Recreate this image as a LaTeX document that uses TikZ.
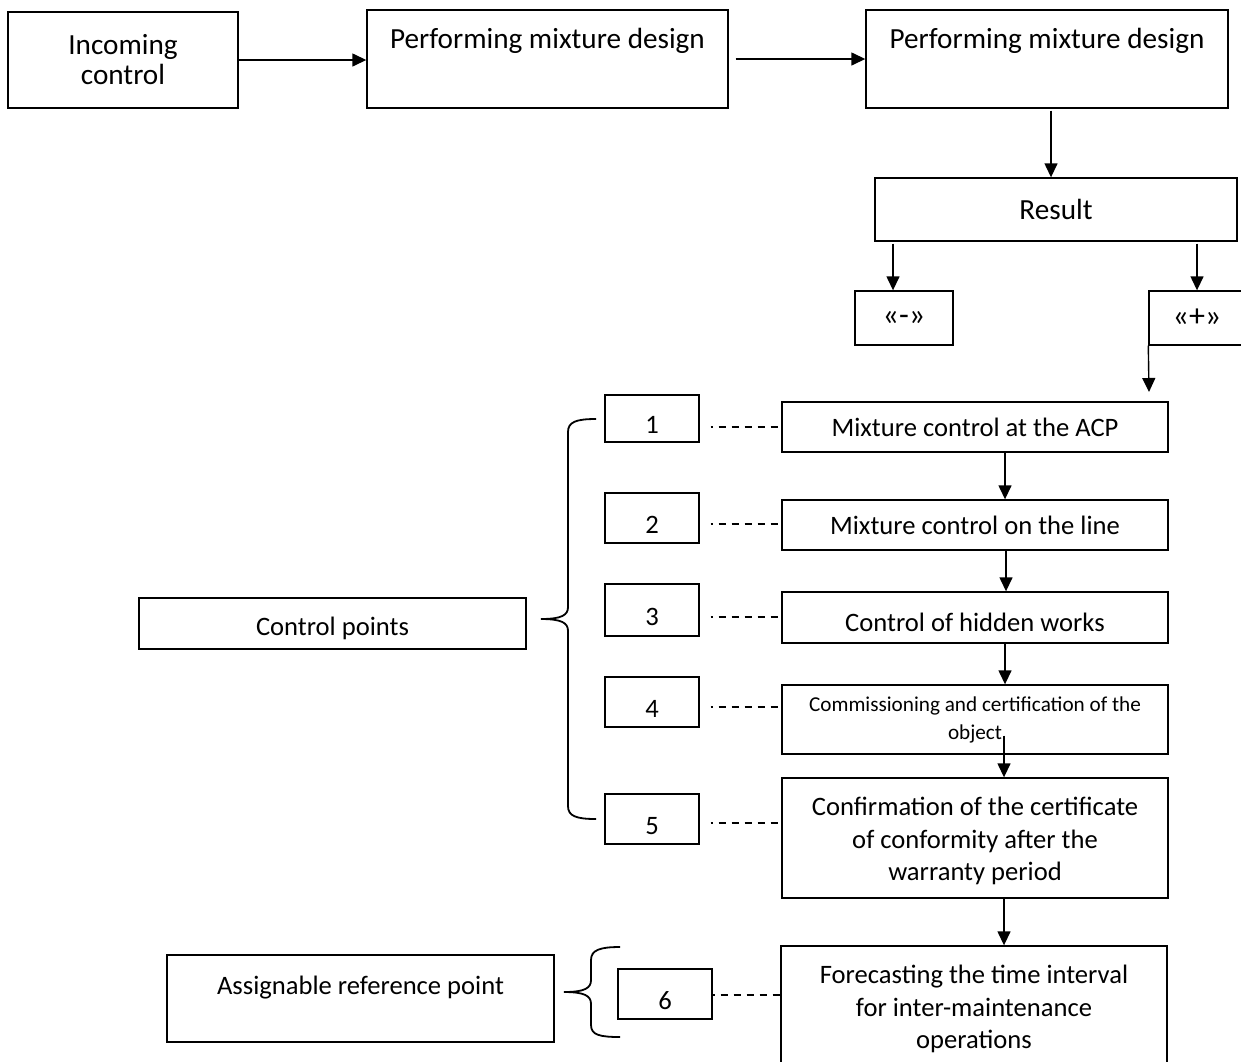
\documentclass[tikz,border=0pt]{standalone}
\usepackage{fontspec}
\setmainfont{Carlito}
\usetikzlibrary{arrows.meta}

\begin{document}
\begin{tikzpicture}[x=0.5pt,y=-0.5pt,
  font=\fontsize{13.3}{16.2}\selectfont,
  blk/.style={draw,line width=0.7pt,align=center,inner sep=2pt},
  big/.style={font=\fontsize{14.6}{15}\selectfont},
  num/.style={blk,minimum width=47pt,minimum height=25pt,text height=15pt,text depth=0pt},
  arr/.style={line width=0.7pt,-{Triangle[length=7pt,width=6.5pt]}},
  dsh/.style={line width=0.7pt,dash pattern=on 3.5pt off 3pt,dash phase=2.5pt}]
  \useasboundingbox (0,0) rectangle (1241,1061);
  % top row
  \node[blk,big,minimum width=115pt,minimum height=48pt] (inc) at (123,60) {Incoming\\control};
  \node[blk,big,minimum width=180.5pt,minimum height=49pt,text height=9.5pt,text depth=20pt] (mix1) at (547.5,59) {Performing mixture design};
  \node[blk,big,minimum width=181pt,minimum height=49pt,text height=9.5pt,text depth=20pt] (mix2) at (1047,59) {Performing mixture design};
  \node[blk,big,minimum width=181pt,minimum height=31.5pt] (res) at (1056,209.5) {Result};
  \node[blk,minimum width=49pt,minimum height=27pt,font=\fontsize{16}{18}\selectfont] (neg) at (904,318) {«-»};
  \node[blk,minimum width=48pt,minimum height=27pt,font=\fontsize{16}{18}\selectfont] (pos) at (1197,318) {«+»};
  \coordinate (posend) at (1149,392);
  % control chain
  \node[blk,minimum width=193pt,minimum height=25pt] (acp) at (975,427) {Mixture control at the ACP};
  \node[blk,minimum width=193pt,minimum height=25pt] (line) at (975,525) {Mixture control on the line};
  \node[blk,minimum width=193pt,minimum height=25.5pt,text height=14pt,text depth=0pt] (hid) at (975,617.5) {Control of hidden works};
  \node[blk,minimum width=193pt,minimum height=34.5pt,font=\fontsize{10.6}{14}\selectfont] (com) at (975,719.5) {Commissioning and certification of the\\object};
  \node[blk,minimum width=193pt,minimum height=60pt] (conf) at (975,838) {\rule{0pt}{12.5pt}Confirmation of the certificate\\of conformity after the\\warranty period};
  \node[blk,minimum width=193pt,minimum height=60pt] (fore) at (974,1006) {\rule{0pt}{12.5pt}Forecasting the time interval\\for inter-maintenance\\operations};
  % numbered points
  \node[num,minimum height=23.5pt] (n1) at (652,418.5) {1};
  \node[num] (n2) at (652,518) {2};
  \node[num,minimum height=26pt] (n3) at (652,610) {3};
  \node[num] (n4) at (652,702) {4};
  \node[num] (n5) at (652,819) {5};
  \node[num] (n6) at (665,994) {6};
  \node[blk,minimum width=193.5pt,minimum height=25.5pt,text height=12pt,text depth=0pt] (cp) at (332.5,623.5) {Control points};
  \node[blk,minimum width=193.5pt,minimum height=43.5pt,text height=9.5pt,text depth=14pt] (arp) at (360.5,998.5) {Assignable reference point};

  \draw[arr] (inc.east) -- (inc.east -| mix1.west);
  \draw[arr] ([xshift=3.5pt]mix1.east) -- (mix1.east -| mix2.west);
  \draw[arr] ([xshift=2pt,yshift=-1pt]mix2.south) -- ([xshift=2pt]mix2.south |- res.north);
  \draw[arr] ([xshift=-5.5pt,yshift=-1pt]neg.north |- res.south) -- ([xshift=-5.5pt]neg.north);
  \draw[arr] ([yshift=-1pt]pos.north |- res.south) -- (pos.north);
  \draw[arr] (pos.south west) -- (posend);
  \draw[arr] ([xshift=15pt]acp.south) -- ([xshift=15pt]line.north);
  \draw[arr] ([xshift=15.5pt]line.south) -- ([xshift=15.5pt]hid.north);
  \draw[arr] ([xshift=15pt]hid.south) -- ([xshift=15pt]com.north);
  \draw[arr] ([xshift=14.5pt,yshift=9.5pt]com.south) -- ([xshift=14.5pt]conf.north);
  \draw[arr] ([xshift=14.5pt]conf.south) -- ([xshift=14.5pt]conf.south |- fore.north);

  \draw[dsh] ([xshift=5.5pt,yshift=-4.25pt]n1.east) -- ([yshift=-4.25pt]n1.east -| acp.west);
  \draw[dsh] ([xshift=5.5pt,yshift=-3pt]n2.east) -- ([yshift=-3pt]n2.east -| line.west);
  \draw[dsh] ([xshift=5.5pt,yshift=-3.5pt]n3.east) -- ([yshift=-3.5pt]n3.east -| hid.west);
  \draw[dsh] ([xshift=5.5pt,yshift=-2.5pt]n4.east) -- ([yshift=-2.5pt]n4.east -| com.west);
  \draw[dsh] ([xshift=5.5pt,yshift=-2pt]n5.east) -- ([yshift=-2pt]n5.east -| conf.west);
  \draw[dsh] ([yshift=-0.5pt]n6.east) -- ([yshift=-0.5pt]n6.east -| fore.west);

  % braces
  \draw[line width=0.9pt] (596,419) .. controls (576,419) and (568,422) .. (568,432) -- (568,607)
    .. controls (568,615) and (562,619) .. (541,619) .. controls (562,619) and (568,623) .. (568,631)
    -- (568,806) .. controls (568,816) and (576,819) .. (596,819);
  \draw[line width=0.9pt] (620,947) .. controls (600,947) and (591,950) .. (591,960) -- (591,980)
    .. controls (591,988) and (585,992) .. (564,992) .. controls (585,992) and (591,996) .. (591,1004)
    -- (591,1025) .. controls (591,1035) and (600,1037) .. (620,1037);
\end{tikzpicture}
\end{document}
